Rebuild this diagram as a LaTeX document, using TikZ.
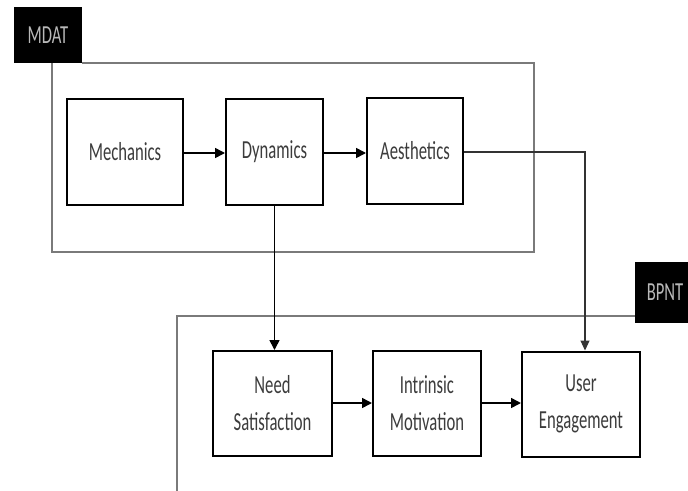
\documentclass[tikz,border=0pt]{standalone}
\usepackage{fontspec}
\setmainfont{Carlito}[FakeStretch=0.64]
\usetikzlibrary{arrows.meta,positioning}
\definecolor{txtgray}{HTML}{3C3C3C}
\definecolor{framegray}{HTML}{7A7A7A}
\definecolor{tagtxt}{HTML}{B8B8B8}
\tikzset{
  stagebox/.style={draw=black, line width=2pt, fill=white, align=center, inner sep=0pt,
    minimum height=106pt, text=txtgray, font=\fontsize{26}{37}\selectfont},
  tagbox/.style={fill=black, text=tagtxt, inner sep=0pt, font=\fontsize{26}{30}\selectfont},
  frameline/.style={draw=framegray, line width=1.3pt},
  flow/.style={draw=black, line width=1.6pt, -{Triangle[length=10pt,width=10pt]}},
  thinflow/.style={draw=black!80, line width=1.1pt, -{Triangle[length=10pt,width=9pt]}}
}
\begin{document}
\begin{tikzpicture}[x=1pt,y=-1pt]
\useasboundingbox[fill=white] (0,0) rectangle (688,490);
\clip (0,0) rectangle (688,490);
% tags
\node[tagbox, minimum width=68pt, minimum height=56pt] (mdat) at (48,35) {MDAT};
\node[tagbox, minimum width=60pt, minimum height=61pt] (bpnt) at (665,292.5) {BPNT};
% frames
\draw[frameline] (mdat.south east |- 0,63) -- (534,63) -- (534,252) -- (52,252) -- (52,63);
\draw[frameline] (bpnt.west |- 0,316) -- (177,316) -- (177,495);
% MDAT boxes
\node[stagebox, minimum width=116pt] (mech) at (125,152) {Mechanics};
\node[stagebox, minimum width=97pt] (dyn) at (274.5,152) {Dynamics};
\node[stagebox, minimum width=96pt] (aes) at (415,151) {Aesthetics};
% BPNT boxes
\node[stagebox, minimum width=119pt, minimum height=105pt] (need) at (272.5,403.5) {Need\\Satisfaction};
\node[stagebox, minimum width=108pt, minimum height=105pt] (intr) at (427,403.5) {Intrinsic\\Motivation};
\node[stagebox, minimum width=118pt, minimum height=105pt] (user) at (581,404) {User\\Engagement};
% connectors
\draw[flow] (mech.east |- 0,153) -- (dyn.west |- 0,153);
\draw[flow] (dyn.east |- 0,153) -- (aes.west |- 0,153);
\draw[flow] (need.east |- 0,403) -- (intr.west |- 0,403);
\draw[flow] (intr.east |- 0,403) -- (user.west |- 0,403);
\draw[flow] (dyn.south) -- (dyn.south |- need.north);
\coordinate (turn) at (585,152);
\draw[thinflow] (aes.east |- turn) -- (turn) -- (turn |- user.north);
\end{tikzpicture}
\end{document}
